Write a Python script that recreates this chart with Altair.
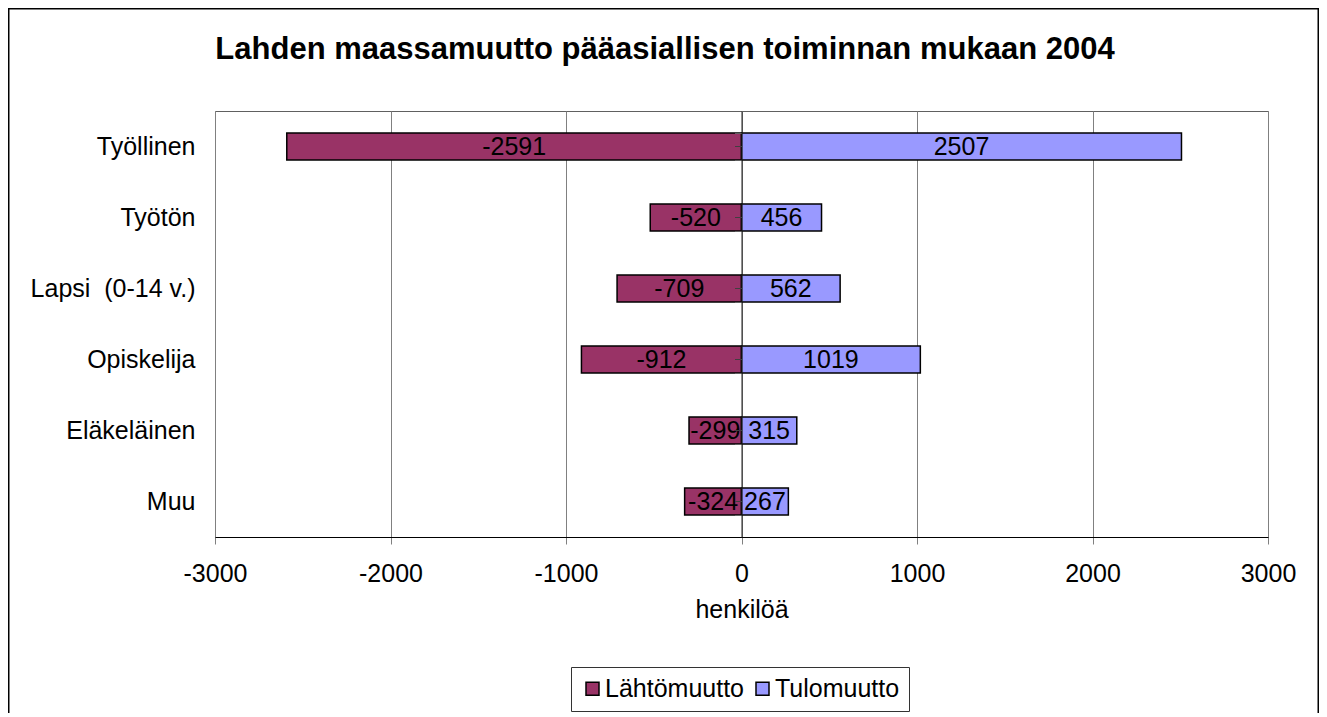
import altair as alt
import pandas as pd

categories = ["Työllinen", "Työtön", "Lapsi \u00a0(0-14 v.)", "Opiskelija", "Eläkeläinen", "Muu"]
lahto = [-2591, -520, -709, -912, -299, -324]
tulo = [2507, 456, 562, 1019, 315, 267]
series = ["Lähtömuutto", "Tulomuutto"]
colors = ["#993366", "#9999FF"]
x_ticks = [-3000, -2000, -1000, 0, 1000, 2000, 3000]

rows = []
for c, a, b in zip(categories, lahto, tulo):
    rows.append({"cat": c, "series": series[0], "value": a})
    rows.append({"cat": c, "series": series[1], "value": b})
df = pd.DataFrame(rows)

FONT = "Liberation Sans"
W, H = 1053, 426
PL, PT = 207, 103
TOTAL_W, TOTAL_H = 1311, 705
ZERO_OFF = W / 2.0

yscale = alt.Scale(domain=categories, paddingInner=0.62, paddingOuter=0.31)
xscale = alt.Scale(domain=[-3000, 3000], nice=False, zero=False)

xaxis = alt.Axis(values=x_ticks, title="henkilöä", grid=True, gridColor="#808080",
                 gridOpacity=1, gridWidth=1, domainColor="#000000", domainWidth=1,
                 tickColor="#808080", tickSize=7, labelFontSize=25, labelColor="black",
                 labelPadding=17, labelFont=FONT, titleFont=FONT, titleFontSize=25,
                 titleFontWeight="normal", titleColor="black", titlePadding=11,
                 labelExpr="'' + datum.value", labelFlush=False, labelOverlap=False)

base = alt.Chart(df)

bars = base.mark_bar(stroke="black", strokeWidth=1.5, opacity=1).encode(
    x=alt.X("value:Q", scale=xscale, axis=xaxis, stack=None),
    y=alt.Y("cat:N", scale=yscale, sort=categories,
            axis=alt.Axis(title=None, domain=False, ticks=False, tickSize=0, grid=False,
                          labelFontSize=25, labelFont=FONT, labelColor="black",
                          labelPadding=20)),
    color=alt.Color("series:N", scale=alt.Scale(domain=series, range=colors),
                    legend=alt.Legend(orient="none", legendX=356, legendY=556,
                                      direction="horizontal", title=None,
                                      labelFontSize=25, labelFont=FONT, labelColor="black",
                                      symbolType="square", symbolSize=169,
                                      symbolStrokeColor="black", symbolStrokeWidth=1.5,
                                      symbolOpacity=1, strokeColor="#333333",
                                      fillColor="white", padding=9, columnPadding=6,
                                      labelOffset=0)),
)

labels = base.transform_calculate(
    mid="datum.value / 2", lbl="'' + datum.value"
).mark_text(
    fontSize=25, font=FONT, color="black", align="center", baseline="middle"
).encode(
    x=alt.X("mid:Q", scale=xscale, axis=xaxis, stack=None),
    y=alt.Y("cat:N", scale=yscale, sort=categories, axis=None),
    text=alt.Text("lbl:N"),
)

center_axis = base.mark_point(opacity=0).encode(
    y=alt.Y("cat:N", scale=yscale, sort=categories,
            axis=alt.Axis(orient="left", offset=-ZERO_OFF, labels=False, title=None,
                          grid=False, domain=True, domainColor="#202020", domainWidth=1,
                          ticks=True, tickBand="extent", tickSize=7, tickColor="#606060",
                          zindex=2)),
)

center_ticks = base.mark_point(opacity=0).encode(
    y=alt.Y("cat:N", scale=yscale, sort=categories,
            axis=alt.Axis(orient="left", offset=-ZERO_OFF, labels=False, title=None,
                          grid=False, domain=False, ticks=True, tickBand="center",
                          tickSize=7, tickColor="#404040", zindex=2)),
)

border = alt.Chart(pd.DataFrame({"k": [0]})).mark_rect(
    fillOpacity=0, stroke="black", strokeWidth=1.5
).encode(
    x=alt.value(-PL + 0.75), x2=alt.value(TOTAL_W - PL - 0.75),
    y=alt.value(-PT + 0.75), y2=alt.value(TOTAL_H + 50),
)

chart = alt.layer(bars, labels, center_axis, center_ticks, border).resolve_axis(
    y="independent"
).properties(
    width=W, height=H,
    autosize=alt.AutoSizeParams(type="none"),
    padding={"left": PL, "top": PT, "right": TOTAL_W - PL - W, "bottom": TOTAL_H - PT - H},
    title=alt.TitleParams(text="Lahden maassamuutto pääasiallisen toiminnan mukaan 2004",
                          fontSize=31, font=FONT, fontWeight="bold", color="black",
                          anchor="middle", dx=-76.5, offset=-82, baseline="alphabetic"),
    background="white",
).configure_view(stroke="#606060", strokeWidth=1)

chart.save("out.html", embed_options={"renderer": "svg", "actions": False})
